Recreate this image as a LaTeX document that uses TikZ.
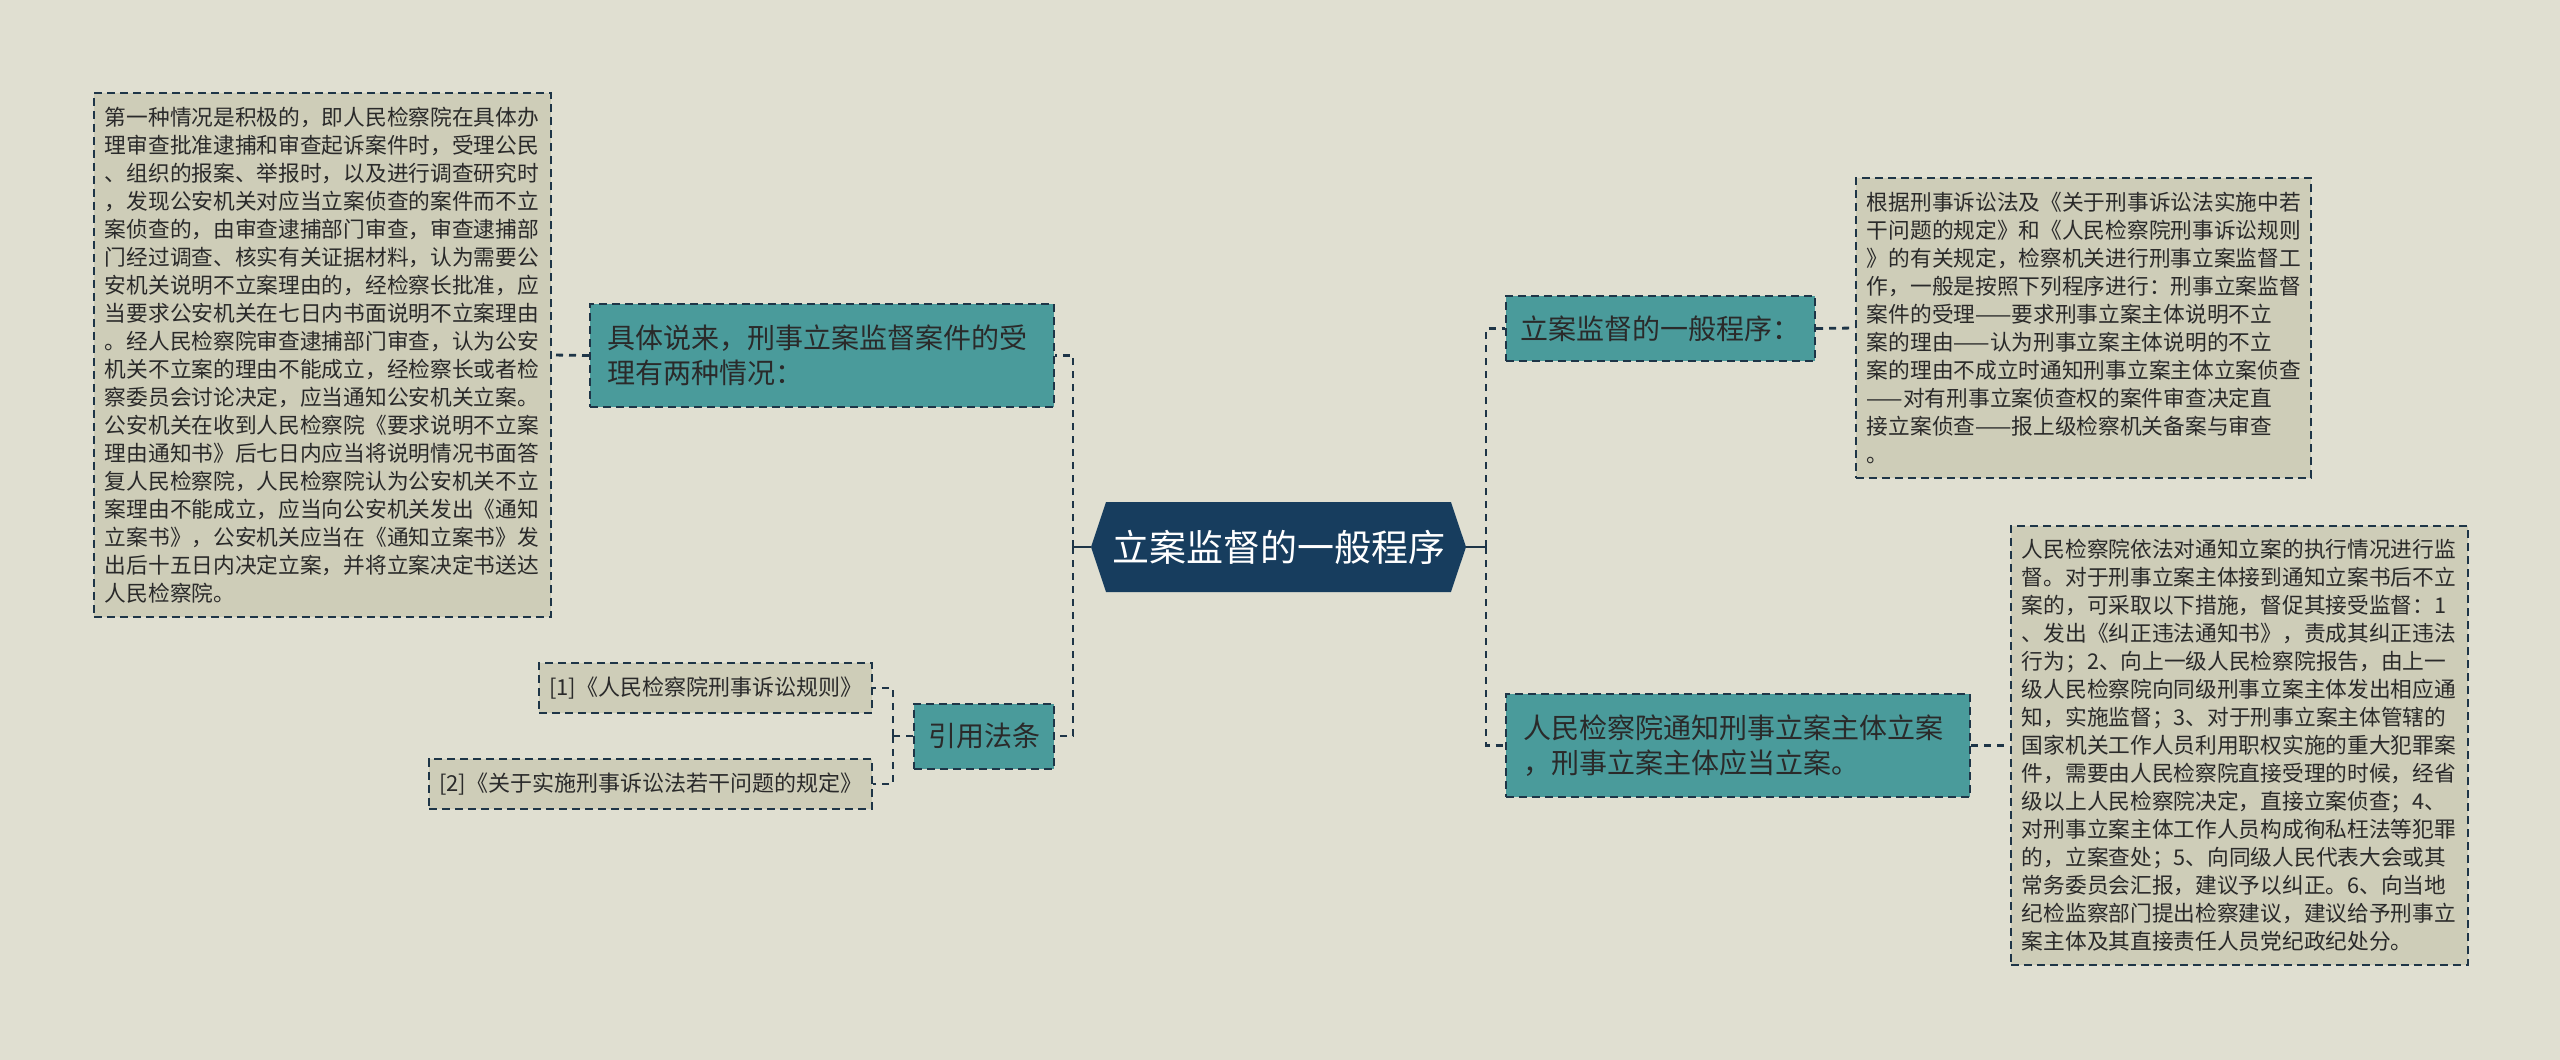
\documentclass[tikz,border=0pt]{standalone}
\usepackage{fontspec}
\setmainfont{Noto Sans CJK SC}
\usetikzlibrary{shapes.symbols}

\definecolor{bgc}{HTML}{E0DFD1}
\definecolor{navy}{HTML}{173D5E}
\definecolor{tealbox}{HTML}{4A9B9B}
\definecolor{sand}{HTML}{CECDB8}
\definecolor{ink}{HTML}{1E3547}
\definecolor{txt}{HTML}{2A2A2A}

\tikzset{
  link/.style={draw=ink, line width=1.4pt, dash pattern=on 3.5pt off 3pt},
  stub/.style={draw=ink, line width=1.4pt},
  rootbox/.style={shape=signal, signal to=east and west, signal pointer angle=143,
    fill=navy, text=white, font=\fontsize{18.5}{22}\selectfont,
    minimum width=187.5pt, minimum height=45pt, inner sep=0pt},
  branch/.style={fill=tealbox, draw=ink, line width=1pt, dash pattern=on 4pt off 2.5pt,
    text=txt, font=\fontsize{14}{17.5}\selectfont, align=left, inner xsep=8.5pt},
  leaf/.style={fill=sand, draw=ink, line width=0.9pt, dash pattern=on 4pt off 2.5pt,
    text=txt, font=\fontsize{10.85}{14}\selectfont, align=left, inner xsep=5.5pt},
  ref/.style={leaf, font=\fontsize{11}{13}\selectfont, minimum height=25pt, inner xsep=5pt},
}

\begin{document}
\begin{tikzpicture}[x=0.5pt,y=-0.5pt]
\useasboundingbox (0,0) rectangle (2560,1060);
\fill[bgc] (0,0) rectangle (2560,1060);

\coordinate (ROOTC) at (1278.5,547);
\coordinate (LT) at (1073,547);
\coordinate (RT) at (1486,547);
\coordinate (CT) at (893,736);

\node[rootbox] (ROOT) at (ROOTC) {立案监督的一般程序};

\node[branch, anchor=west, text width=215pt, minimum height=51.5pt] (CASE) at (589,355.5)
  {具体说来，刑事立案监督案件的受\\理有两种情况：};
\node[branch, anchor=west, minimum width=70pt, minimum height=32.5pt, inner xsep=0pt] (CITE) at (913,736) {引用法条};
\node[branch, anchor=west, minimum width=154.5pt, minimum height=32.5pt, inner xsep=0pt] (PROC) at (1505,328.5) {立案监督的一般程序：};
\node[branch, anchor=west, text width=215pt, minimum height=51.5pt] (NOTE) at (1505,745.5)
  {人民检察院通知刑事立案主体立案\\，刑事立案主体应当立案。};

\node[leaf, anchor=west, text width=217.5pt, minimum height=262pt] (CASED) at (93,355)
  {第一种情况是积极的，即人民检察院在具体办\\
   理审查批准逮捕和审查起诉案件时，受理公民\\
   、组织的报案、举报时，以及进行调查研究时\\
   ，发现公安机关对应当立案侦查的案件而不立\\
   案侦查的，由审查逮捕部门审查，审查逮捕部\\
   门经过调查、核实有关证据材料，认为需要公\\
   安机关说明不立案理由的，经检察长批准，应\\
   当要求公安机关在七日内书面说明不立案理由\\
   。经人民检察院审查逮捕部门审查，认为公安\\
   机关不立案的理由不能成立，经检察长或者检\\
   察委员会讨论决定，应当通知公安机关立案。\\
   公安机关在收到人民检察院《要求说明不立案\\
   理由通知书》后七日内应当将说明情况书面答\\
   复人民检察院，人民检察院认为公安机关不立\\
   案理由不能成立，应当向公安机关发出《通知\\
   立案书》，公安机关应当在《通知立案书》发\\
   出后十五日内决定立案，并将立案决定书送达\\
   人民检察院。};

\node[ref, anchor=east] (REFA) at (873,688) {[1]《人民检察院刑事诉讼规则》};
\node[ref, anchor=east] (REFB) at (873,784) {[2]《关于实施刑事诉讼法若干问题的规定》};

\node[leaf, anchor=west, text width=216.5pt, minimum height=150pt] (PROCD) at (1855,328)
  {根据刑事诉讼法及《关于刑事诉讼法实施中若\\
   干问题的规定》和《人民检察院刑事诉讼规则\\
   》的有关规定，检察机关进行刑事立案监督工\\
   作，一般是按照下列程序进行：刑事立案监督\\
   案件的受理——要求刑事立案主体说明不立\\
   案的理由——认为刑事立案主体说明的不立\\
   案的理由不成立时通知刑事立案主体立案侦查\\
   ——对有刑事立案侦查权的案件审查决定直\\
   接立案侦查——报上级检察机关备案与审查\\
   。};

\node[leaf, anchor=west, text width=217.5pt, minimum height=219.5pt] (NOTED) at (2010,745.5)
  {人民检察院依法对通知立案的执行情况进行监\\
   督。对于刑事立案主体接到通知立案书后不立\\
   案的，可采取以下措施，督促其接受监督：1\\
   、发出《纠正违法通知书》，责成其纠正违法\\
   行为；2、向上一级人民检察院报告，由上一\\
   级人民检察院向同级刑事立案主体发出相应通\\
   知，实施监督；3、对于刑事立案主体管辖的\\
   国家机关工作人员利用职权实施的重大犯罪案\\
   件，需要由人民检察院直接受理的时候，经省\\
   级以上人民检察院决定，直接立案侦查；4、\\
   对刑事立案主体工作人员构成徇私枉法等犯罪\\
   的，立案查处；5、向同级人民代表大会或其\\
   常务委员会汇报，建议予以纠正。6、向当地\\
   纪检监察部门提出检察建议，建议给予刑事立\\
   案主体及其直接责任人员党纪政纪处分。};

\draw[stub] (ROOT.west) -- (LT);
\draw[link] (LT) |- (CASE.east);
\draw[link] (LT) |- (CITE.east);
\draw[link] (CASE.west) -- (CASED.east);
\draw[link] (CITE.west) -- (CT);
\draw[link] (CT) |- (REFA.east);
\draw[link] (CT) |- (REFB.east);

\draw[stub] (ROOT.east) -- (RT);
\draw[link] (RT) |- (PROC.west);
\draw[link] (RT) |- (NOTE.west);
\draw[link] (PROC.east) -- (PROCD.west);
\draw[link] (NOTE.east) -- (NOTED.west);
\end{tikzpicture}
\end{document}
